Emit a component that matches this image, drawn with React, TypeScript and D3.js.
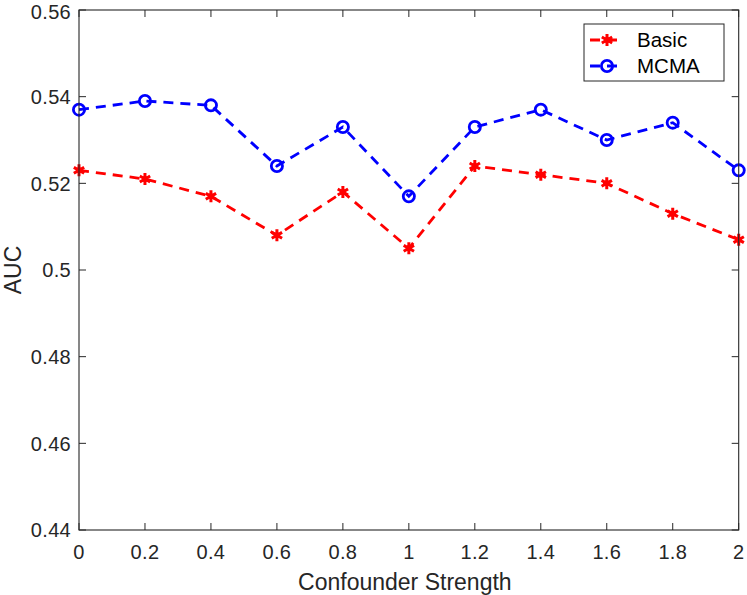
import React from 'react';
import * as d3 from 'd3';

// confounder strength values on the x axis
const strengths = [0, 0.2, 0.4, 0.6, 0.8, 1, 1.2, 1.4, 1.6, 1.8, 2];
const basicAuc = [0.523, 0.521, 0.517, 0.508, 0.518, 0.505, 0.524, 0.522, 0.520, 0.513, 0.507];
const mcmaAuc = [0.537, 0.539, 0.538, 0.524, 0.533, 0.517, 0.533, 0.537, 0.530, 0.534, 0.523];
const yTicks = [0.44, 0.46, 0.48, 0.5, 0.52, 0.54, 0.56];
const seriesNames = ['Basic', 'MCMA'];

const W = 747;
const H = 595;
const axisColor = '#262626';
const font = 'Liberation Sans, Arial, Helvetica, sans-serif';

const App: React.FC = () => {
  const x = d3.scaleLinear().domain([0, 2]).range([79, 738.7]);
  const y = d3.scaleLinear().domain([0.44, 0.56]).range([530, 10]);
  const [x0, x1] = x.range();
  const [y0, y1] = y.range();
  const fmt = d3.format('~g');
  const tickLen = 7;

  const line = d3.line<number>()
    .x((_, i) => x(strengths[i]))
    .y(d => y(d));

  const star = d3.symbol(d3.symbolAsterisk, 100)();

  const series = [
    { name: seriesNames[0], values: basicAuc, color: '#ff0000', marker: 'star' },
    { name: seriesNames[1], values: mcmaAuc, color: '#0000ff', marker: 'circle' },
  ];

  const drawMarker = (kind: string, color: string, cx: number, cy: number, key: React.Key) =>
    kind === 'star'
      ? <g key={key} transform={`translate(${cx},${cy})`}>
          <circle r={3} fill={color} />
          <path d={star || ''} fill="none" stroke={color} strokeWidth={3} />
        </g>
      : <circle key={key} cx={cx} cy={cy} r={5.6} fill="none" stroke={color} strokeWidth={2.8} />;

  return (
    <svg width={W} height={H} style={{ position: 'absolute', left: 0, top: 0, background: '#fff' }} fontFamily={font}>
      <rect width={W} height={H} fill="#fff" />

      {/* ticks, mirrored on top and right */}
      <g stroke={axisColor} strokeWidth={1}>
        {strengths.map(t => (
          <g key={'xt' + t}>
            <line x1={x(t)} x2={x(t)} y1={y0} y2={y0 - tickLen} />
            <line x1={x(t)} x2={x(t)} y1={y1} y2={y1 + tickLen} />
          </g>
        ))}
        {yTicks.map(t => (
          <g key={'yt' + t}>
            <line x1={x0} x2={x0 + tickLen} y1={y(t)} y2={y(t)} />
            <line x1={x1} x2={x1 - tickLen} y1={y(t)} y2={y(t)} />
          </g>
        ))}
      </g>

      {/* series */}
      {series.map(s => (
        <g key={s.name}>
          <path d={line(s.values) || ''} fill="none" stroke={s.color} strokeWidth={2.8} strokeDasharray="10,7" />
          {s.values.map((v, i) => drawMarker(s.marker, s.color, x(strengths[i]), y(v), i))}
        </g>
      ))}

      {/* axes box */}
      <rect x={x0} y={y1} width={x1 - x0} height={y0 - y1} fill="none" stroke={axisColor} strokeWidth={1.1} />

      {/* tick labels */}
      <g fill={axisColor} fontSize={20} letterSpacing={0.3}>
        {strengths.map(t => (
          <text key={'xl' + t} x={x(t)} y={559} textAnchor="middle">{fmt(t)}</text>
        ))}
        {yTicks.map(t => (
          <text key={'yl' + t} x={71} y={Math.max(y(t), 12)} dy="0.36em" textAnchor="end">{fmt(t)}</text>
        ))}
      </g>

      {/* axis labels */}
      <text x={(x0 + x1) / 2 - 4} y={590} textAnchor="middle" fontSize={23} fill={axisColor}>Confounder Strength</text>
      <text transform={`translate(21,${(y0 + y1) / 2}) rotate(-90)`} textAnchor="middle" fontSize={23} fill={axisColor}>AUC</text>

      {/* legend */}
      <g>
        <rect x={584} y={24} width={140} height={57} fill="#fff" stroke={axisColor} strokeWidth={1} />
        {series.map((s, i) => {
          const cy = 40 + i * 26;
          return (
            <g key={'lg' + s.name}>
              <line x1={590} x2={624} y1={cy} y2={cy} stroke={s.color} strokeWidth={2.8} strokeDasharray="10,7" />
              {drawMarker(s.marker, s.color, 607, cy, 'm')}
              <text x={637} y={cy} dy="0.36em" fontSize={20.5} fill="#000">{s.name}</text>
            </g>
          );
        })}
      </g>
    </svg>
  );
};

export default App;
